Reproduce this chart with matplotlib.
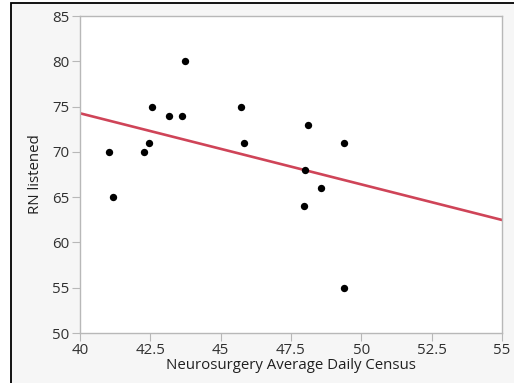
import matplotlib
matplotlib.use("Agg")
import matplotlib.pyplot as plt
from matplotlib.patches import Rectangle
import numpy as np

# data
census = [41.03, 41.18, 42.29, 42.46, 42.55, 43.16, 43.64, 43.73,
          45.73, 45.83, 48.0, 47.97, 48.12, 48.57, 49.4, 49.4]
rn_listened = [70, 65, 70, 71, 75, 74, 74, 80,
               75, 71, 68, 64, 73, 66, 71, 55]

# fitted line endpoints (x, y)
fit_x = [40, 55]
fit_y = [74.26, 62.48]

x_ticks = [40, 42.5, 45, 47.5, 50, 52.5, 55]
x_tick_labels = ["40", "42.5", "45", "47.5", "50", "52.5", "55"]
y_ticks = [50, 55, 60, 65, 70, 75, 80, 85]

plt.rcParams['font.family'] = ['Open Sans', 'DejaVu Sans']

fig = plt.figure(figsize=(5.14, 3.83), dpi=100)
fig.patch.set_facecolor("white")

# gray panel with black frame on top/left
W, H = 514, 383
panel = Rectangle((11 / W, -0.1), 1.2, (H - 3) / H + 0.1, transform=fig.transFigure,
                  facecolor="#f6f6f6", edgecolor="black", linewidth=1.3, zorder=-10)
fig.patches.append(panel)

ax = fig.add_axes([80 / W, 1 - 333 / H, (502 - 80) / W, (333 - 16) / H])
ax.set_facecolor("white")

ax.scatter(census, rn_listened, s=28, color="black", zorder=3, linewidths=0)
ax.plot(fit_x, fit_y, color="#cf4458", linewidth=1.9, zorder=2)

ax.set_xlim(40, 55)
ax.set_ylim(50, 85)
ax.set_xticks(x_ticks)
ax.set_xticklabels(x_tick_labels)
ax.set_yticks(y_ticks)

for s in ax.spines.values():
    s.set_color("#b8b8b8")
    s.set_linewidth(1.0)

ax.tick_params(direction="out", length=6, width=0.8, color="#b8b8b8",
               labelsize=10.8, labelcolor="#303030", pad=1.5)

ax.set_xlabel("Neurosurgery Average Daily Census", fontsize=10.8, color="#202020", labelpad=0)
ax.set_ylabel("RN listened", fontsize=10.8, color="#202020", labelpad=7)

fig.savefig("out.png", dpi=100)
